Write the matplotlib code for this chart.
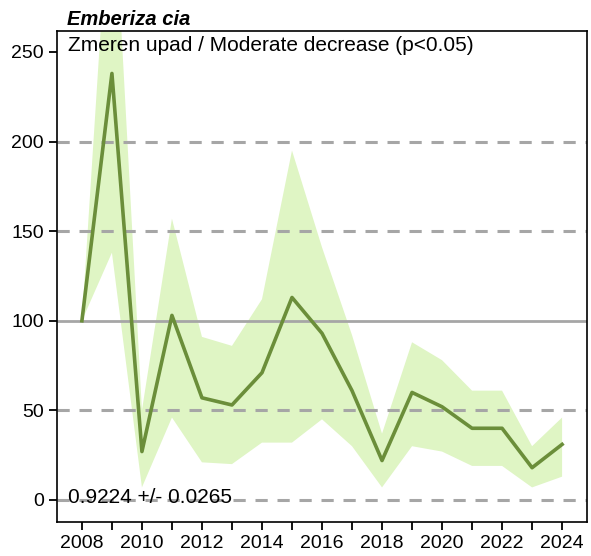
import numpy as np
import matplotlib.pyplot as plt

plt.rcParams['font.family'] = ['Liberation Sans', 'DejaVu Sans']

# Index values (2008 = 100) with confidence band
years = list(range(2008, 2025))
index = [100, 238, 27, 103, 57, 53, 71, 113, 93, 61, 22, 60, 52, 40, 40, 18, 31]
upper = [100, 360, 50, 157, 91, 86, 112, 195, 141, 92, 37, 88, 78, 61, 61, 30, 46]
lower = [100, 138, 7, 46, 21, 20, 32, 32, 45, 30, 7, 30, 27, 19, 19, 7, 13]

species = 'Emberiza cia'
trend_label = 'Zmeren upad / Moderate decrease (p<0.05)'
slope_label = '0.9224 +/- 0.0265'

fig = plt.figure(figsize=(5.91, 5.56), dpi=100)
ax = fig.add_axes([57 / 591, 34 / 556, 530 / 591, 491 / 556])

ax.fill_between(years, lower, upper, color='#dff5c4', linewidth=0, zorder=1)

# reference lines
for yv in [0, 50, 150, 200]:
    ax.axhline(yv, color='#a6a6a6', linewidth=2.2, linestyle=(0, (4, 3.2)), zorder=2)
ax.axhline(100, color='#a6a6a6', linewidth=2.0, zorder=2)

ax.plot(years, index, color='#6b8e3a', linewidth=2.6, zorder=3)

ax.set_xlim(2007.17, 2024.83)
ax.set_ylim(-12.3, 261.7)
ax.set_xticks(years)
ax.set_xticklabels([str(y) if y % 2 == 0 else '' for y in years])
ax.set_yticks([0, 50, 100, 150, 200, 250])
ax.tick_params(axis='both', labelsize=14, length=6, width=1.3, color='black')

for s in ax.spines.values():
    s.set_linewidth(1.2)

ax.text(0.021, 0.99, trend_label, transform=ax.transAxes, fontsize=15,
        ha='left', va='top', zorder=4)
ax.text(0.021, 0.03, slope_label, transform=ax.transAxes, fontsize=15,
        ha='left', va='bottom', zorder=4)
ax.text(0.018, 1.005, species, transform=ax.transAxes, fontsize=14.5,
        fontweight='bold', fontstyle='italic', ha='left', va='bottom')

fig.savefig('out.png', dpi=100)
